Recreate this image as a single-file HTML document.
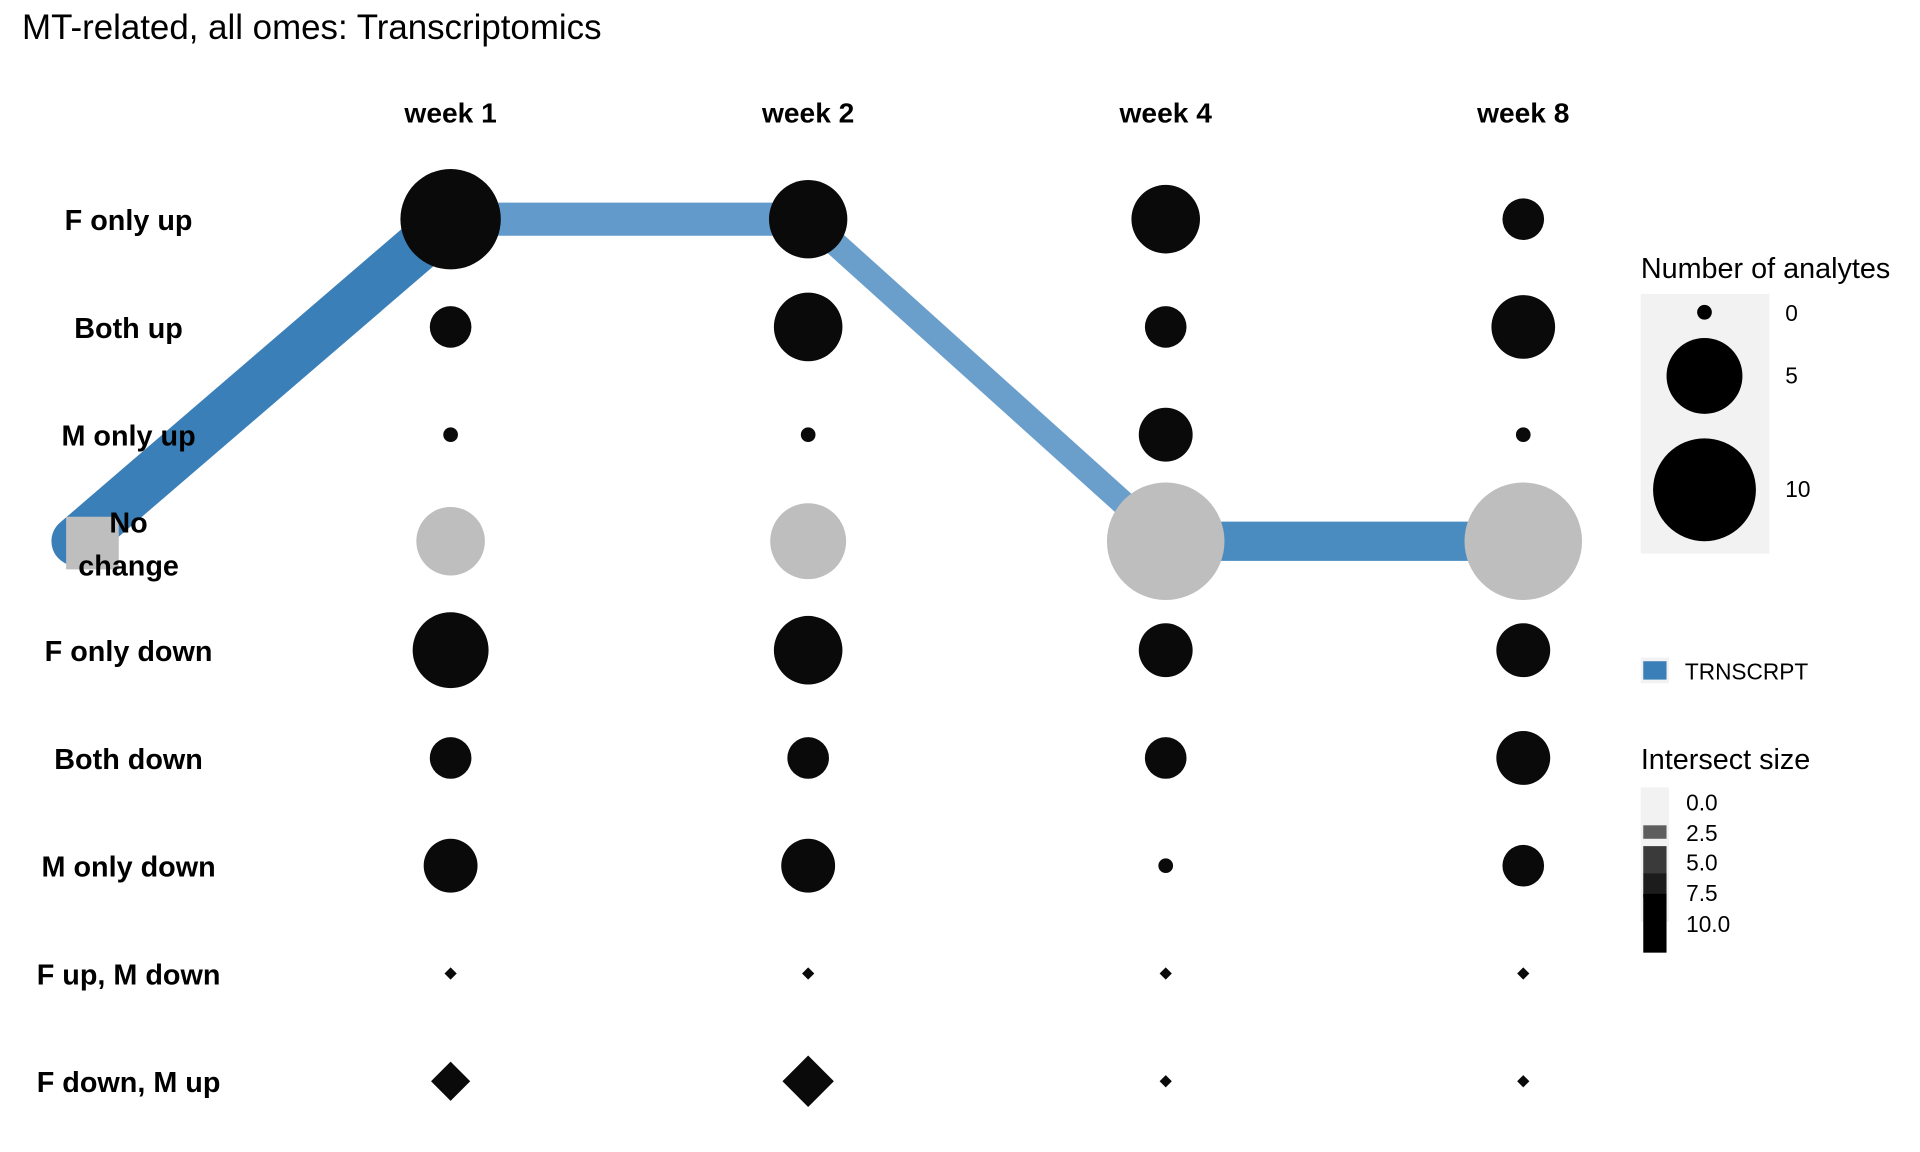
<!DOCTYPE html>
<html><head><meta charset="utf-8"><style>
html,body{margin:0;padding:0;background:#fff;}
svg{display:block;}
text{font-family:"Liberation Sans",Arial,sans-serif;}
.lab{font-weight:bold;font-size:23.5px;text-anchor:middle;}
.hd{font-weight:bold;font-size:23px;text-anchor:middle;}
</style></head><body>
<svg width="1920" height="1152" viewBox="0 0 1568 940.8" preserveAspectRatio="none" xmlns="http://www.w3.org/2000/svg">
<rect width="1568" height="940.8" fill="#fff"/>
<text x="18" y="32" font-size="28.5">MT-related, all omes: Transcriptomics</text>
<text class="hd" x="368" y="100">week 1</text>
<text class="hd" x="660" y="100">week 2</text>
<text class="hd" x="952" y="100">week 4</text>
<text class="hd" x="1244" y="100">week 8</text>
<line x1="62" y1="442" x2="368" y2="179" stroke="#3a7fb8" stroke-width="40" stroke-linecap="round"/>
<line x1="368" y1="179" x2="660" y2="179" stroke="#629bcb" stroke-width="27"/>
<line x1="660" y1="179" x2="952" y2="442" stroke="#6a9fcb" stroke-width="20"/>
<line x1="952" y1="442" x2="1244" y2="442" stroke="#4a8bc0" stroke-width="32"/>
<rect x="54" y="422" width="43" height="43" fill="#bebebe"/>
<text class="lab" x="105" y="188">F only up</text>
<text class="lab" x="105" y="276">Both up</text>
<text class="lab" x="105" y="364">M only up</text>
<text class="lab" x="105" y="435">No</text>
<text class="lab" x="105" y="470">change</text>
<text class="lab" x="105" y="540">F only down</text>
<text class="lab" x="105" y="628">Both down</text>
<text class="lab" x="105" y="716">M only down</text>
<text class="lab" x="105" y="804">F up, M down</text>
<text class="lab" x="105" y="892">F down, M up</text>
<g fill="#0a0a0a">
<circle cx="368" cy="179" r="41"/><circle cx="368" cy="267" r="17"/><circle cx="368" cy="355" r="6"/>
<circle cx="368" cy="531" r="31"/><circle cx="368" cy="619" r="17"/><circle cx="368" cy="707" r="22"/>
<circle cx="660" cy="179" r="32"/><circle cx="660" cy="267" r="28"/><circle cx="660" cy="355" r="6"/>
<circle cx="660" cy="531" r="28"/><circle cx="660" cy="619" r="17"/><circle cx="660" cy="707" r="22"/>
<circle cx="952" cy="179" r="28"/><circle cx="952" cy="267" r="17"/><circle cx="952" cy="355" r="22"/>
<circle cx="952" cy="531" r="22"/><circle cx="952" cy="619" r="17"/><circle cx="952" cy="707" r="6"/>
<circle cx="1244" cy="179" r="17"/><circle cx="1244" cy="267" r="26"/><circle cx="1244" cy="355" r="6"/>
<circle cx="1244" cy="531" r="22"/><circle cx="1244" cy="619" r="22"/><circle cx="1244" cy="707" r="17"/>
<polygon points="368,790 373,795 368,800 363,795"/>
<polygon points="660,790 665,795 660,800 655,795"/>
<polygon points="952,790 957,795 952,800 947,795"/>
<polygon points="1244,790 1249,795 1244,800 1239,795"/>
<polygon points="368,867 384,883 368,899 352,883"/>
<polygon points="660,862 681,883 660,904 639,883"/>
<polygon points="952,878 957,883 952,888 947,883"/>
<polygon points="1244,878 1249,883 1244,888 1239,883"/>
</g>
<g fill="#bebebe">
<circle cx="368" cy="442" r="28"/><circle cx="660" cy="442" r="31"/>
<circle cx="952" cy="442" r="48"/><circle cx="1244" cy="442" r="48"/>
</g>
<text x="1340" y="227" font-size="23.5">Number of analytes</text>
<rect x="1340" y="240" width="105" height="212" fill="#f2f2f2"/>
<circle cx="1392" cy="255" r="6" fill="#000"/>
<circle cx="1392" cy="307" r="31" fill="#000"/>
<circle cx="1392" cy="400" r="42" fill="#000"/>
<text x="1458" y="262" font-size="18.5">0</text>
<text x="1458" y="313" font-size="18.5">5</text>
<text x="1458" y="406" font-size="18.5">10</text>
<rect x="1340" y="537" width="23" height="21" fill="#f2f2f2"/>
<rect x="1342" y="540" width="19" height="15" fill="#3a7fb8"/>
<text x="1376" y="555" font-size="18.5">TRNSCRPT</text>
<text x="1340" y="628" font-size="23.5">Intersect size</text>
<rect x="1340" y="643" width="23" height="110" fill="#f2f2f2"/>
<rect x="1342" y="674" width="19" height="11" fill="#5e5e5e"/>
<rect x="1342" y="691" width="19" height="22" fill="#3a3a3a"/>
<rect x="1342" y="713" width="19" height="20" fill="#1c1c1c"/>
<rect x="1342" y="730" width="19" height="48" fill="#000"/>
<text x="1377" y="662" font-size="18.5">0.0</text>
<text x="1377" y="687" font-size="18.5">2.5</text>
<text x="1377" y="711" font-size="18.5">5.0</text>
<text x="1377" y="736" font-size="18.5">7.5</text>
<text x="1377" y="761" font-size="18.5">10.0</text>
</svg>
</body></html>
